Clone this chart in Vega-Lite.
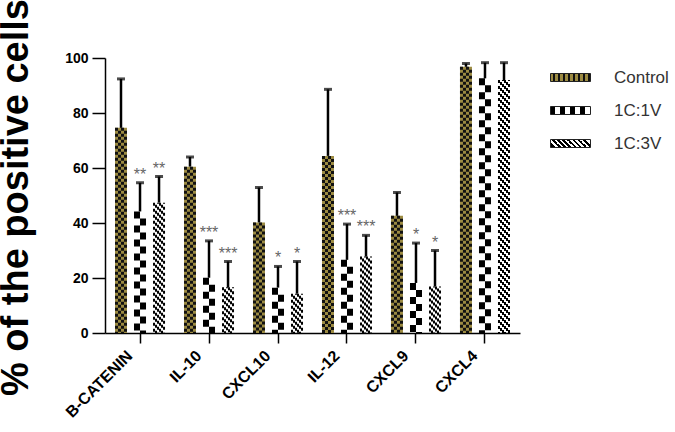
{
  "$schema": "https://vega.github.io/schema/vega-lite/v6.json",
  "width": 415,
  "height": 275,
  "autosize": {"type": "none"},
  "padding": {"left": 105, "top": 58, "right": 155, "bottom": 99},
  "background": "white",
  "config": {"view": {"stroke": null}, "font": "Liberation Sans"},
  "data": {"values": [
    {"cat": "B-CATENIN", "grp": "Control", "mean": 74.6, "upper": 92.4, "sig": ""},
    {"cat": "B-CATENIN", "grp": "1C:1V", "mean": 44.2, "upper": 54.6, "sig": "**"},
    {"cat": "B-CATENIN", "grp": "1C:3V", "mean": 47.4, "upper": 56.9, "sig": "**"},
    {"cat": "IL-10", "grp": "Control", "mean": 60.5, "upper": 64.0, "sig": ""},
    {"cat": "IL-10", "grp": "1C:1V", "mean": 20.1, "upper": 33.5, "sig": "***"},
    {"cat": "IL-10", "grp": "1C:3V", "mean": 16.6, "upper": 26.0, "sig": "***"},
    {"cat": "CXCL10", "grp": "Control", "mean": 40.2, "upper": 52.9, "sig": ""},
    {"cat": "CXCL10", "grp": "1C:1V", "mean": 16.5, "upper": 24.2, "sig": "*"},
    {"cat": "CXCL10", "grp": "1C:3V", "mean": 14.3, "upper": 26.0, "sig": "*"},
    {"cat": "IL-12", "grp": "Control", "mean": 64.4, "upper": 88.6, "sig": ""},
    {"cat": "IL-12", "grp": "1C:1V", "mean": 26.6, "upper": 39.6, "sig": "***"},
    {"cat": "IL-12", "grp": "1C:3V", "mean": 27.8, "upper": 35.5, "sig": "***"},
    {"cat": "CXCL9", "grp": "Control", "mean": 42.6, "upper": 51.1, "sig": ""},
    {"cat": "CXCL9", "grp": "1C:1V", "mean": 18.2, "upper": 32.7, "sig": "*"},
    {"cat": "CXCL9", "grp": "1C:3V", "mean": 16.9, "upper": 30.0, "sig": "*"},
    {"cat": "CXCL4", "grp": "Control", "mean": 96.8, "upper": 98.0, "sig": ""},
    {"cat": "CXCL4", "grp": "1C:1V", "mean": 92.6, "upper": 98.3, "sig": ""},
    {"cat": "CXCL4", "grp": "1C:3V", "mean": 92.0, "upper": 98.3, "sig": ""}
  ]},
  "encoding": {
    "x": {
      "field": "cat", "type": "nominal",
      "sort": ["B-CATENIN", "IL-10", "CXCL10", "IL-12", "CXCL9", "CXCL4"],
      "scale": {"paddingInner": 0.275, "paddingOuter": 0.145},
      "axis": {
        "title": null, "labelAngle": -45, "labelAlign": "right", "labelBaseline": "middle",
        "labelFontSize": 16, "labelFontWeight": "bold", "labelColor": "black", "labelPadding": 10, "labelOffset": -10,
        "tickSize": 10, "tickWidth": 1.5, "tickColor": "black", "domainColor": "black", "domainWidth": 1.5
      }
    },
    "y": {
      "field": "mean", "type": "quantitative",
      "scale": {"domain": [0, 100], "nice": false},
      "axis": {
        "values": [0, 20, 40, 60, 80, 100], "grid": false,
        "labelFontSize": 14, "labelFontWeight": "bold", "labelColor": "black", "labelPadding": 4,
        "tickSize": 13, "tickWidth": 1.5, "tickColor": "black", "domainColor": "black", "domainWidth": 1.5,
        "title": "% of the positive cells", "titleFontSize": 38, "titleFontWeight": "bold", "titleColor": "black",
        "titleAngle": -90, "titleX": -78, "titleY": 139, "titleAlign": "center", "titleBaseline": "alphabetic"
      }
    }
  },
  "layer": [
    {"transform": [{"filter": "datum.grp === 'Control'"}],
     "mark": {"type": "bar", "fill": "#9c8b42"},
     "encoding": {"xOffset": {"field": "grp", "type": "nominal", "scale": {"domain": ["Control", "1C:1V", "1C:3V"], "paddingInner": 0.37, "paddingOuter": 0}}}},
    {"transform": [{"filter": "datum.grp === 'Control'"}], "mark": {"type": "rule", "color": "#111", "strokeWidth": 3, "strokeDash": [3, 3], "strokeDashOffset": 0},
     "encoding": {"x": {"field": "cat", "type": "nominal", "sort": ["B-CATENIN", "IL-10", "CXCL10", "IL-12", "CXCL9", "CXCL4"], "bandPosition": 0.03}, "y2": {"datum": 0}}},
    {"transform": [{"filter": "datum.grp === 'Control'"}], "mark": {"type": "rule", "color": "#111", "strokeWidth": 3, "strokeDash": [3, 3], "strokeDashOffset": 3},
     "encoding": {"x": {"field": "cat", "type": "nominal", "sort": ["B-CATENIN", "IL-10", "CXCL10", "IL-12", "CXCL9", "CXCL4"], "bandPosition": 0.09}, "y2": {"datum": 0}}},
    {"transform": [{"filter": "datum.grp === 'Control'"}], "mark": {"type": "rule", "color": "#111", "strokeWidth": 3, "strokeDash": [3, 3], "strokeDashOffset": 0},
     "encoding": {"x": {"field": "cat", "type": "nominal", "sort": ["B-CATENIN", "IL-10", "CXCL10", "IL-12", "CXCL9", "CXCL4"], "bandPosition": 0.15}, "y2": {"datum": 0}}},
    {"transform": [{"filter": "datum.grp === 'Control'"}], "mark": {"type": "rule", "color": "#111", "strokeWidth": 3, "strokeDash": [3, 3], "strokeDashOffset": 3},
     "encoding": {"x": {"field": "cat", "type": "nominal", "sort": ["B-CATENIN", "IL-10", "CXCL10", "IL-12", "CXCL9", "CXCL4"], "bandPosition": 0.21}, "y2": {"datum": 0}}},
    {"transform": [{"filter": "datum.grp === '1C:1V'"}], "mark": {"type": "rule", "color": "#000", "strokeWidth": 6, "strokeDash": [7, 7], "strokeDashOffset": 0},
     "encoding": {"x": {"field": "cat", "type": "nominal", "sort": ["B-CATENIN", "IL-10", "CXCL10", "IL-12", "CXCL9", "CXCL4"], "bandPosition": 0.44}, "y2": {"datum": 0}}},
    {"transform": [{"filter": "datum.grp === '1C:1V'"}], "mark": {"type": "rule", "color": "#000", "strokeWidth": 6, "strokeDash": [7, 7], "strokeDashOffset": 7},
     "encoding": {"x": {"field": "cat", "type": "nominal", "sort": ["B-CATENIN", "IL-10", "CXCL10", "IL-12", "CXCL9", "CXCL4"], "bandPosition": 0.56}, "y2": {"datum": 0}}},
    {"transform": [{"filter": "datum.grp === '1C:3V'"}], "mark": {"type": "rule", "color": "#000", "strokeWidth": 2, "strokeDash": [3, 3], "strokeDashOffset": 0},
     "encoding": {"x": {"field": "cat", "type": "nominal", "sort": ["B-CATENIN", "IL-10", "CXCL10", "IL-12", "CXCL9", "CXCL4"], "bandPosition": 0.78}, "y2": {"datum": 0}}},
    {"transform": [{"filter": "datum.grp === '1C:3V'"}], "mark": {"type": "rule", "color": "#000", "strokeWidth": 2, "strokeDash": [3, 3], "strokeDashOffset": 4},
     "encoding": {"x": {"field": "cat", "type": "nominal", "sort": ["B-CATENIN", "IL-10", "CXCL10", "IL-12", "CXCL9", "CXCL4"], "bandPosition": 0.82}, "y2": {"datum": 0}}},
    {"transform": [{"filter": "datum.grp === '1C:3V'"}], "mark": {"type": "rule", "color": "#000", "strokeWidth": 2, "strokeDash": [3, 3], "strokeDashOffset": 2},
     "encoding": {"x": {"field": "cat", "type": "nominal", "sort": ["B-CATENIN", "IL-10", "CXCL10", "IL-12", "CXCL9", "CXCL4"], "bandPosition": 0.86}, "y2": {"datum": 0}}},
    {"transform": [{"filter": "datum.grp === '1C:3V'"}], "mark": {"type": "rule", "color": "#000", "strokeWidth": 2, "strokeDash": [3, 3], "strokeDashOffset": 0},
     "encoding": {"x": {"field": "cat", "type": "nominal", "sort": ["B-CATENIN", "IL-10", "CXCL10", "IL-12", "CXCL9", "CXCL4"], "bandPosition": 0.90}, "y2": {"datum": 0}}},
    {"transform": [{"filter": "datum.grp === '1C:3V'"}], "mark": {"type": "rule", "color": "#000", "strokeWidth": 2, "strokeDash": [3, 3], "strokeDashOffset": 4},
     "encoding": {"x": {"field": "cat", "type": "nominal", "sort": ["B-CATENIN", "IL-10", "CXCL10", "IL-12", "CXCL9", "CXCL4"], "bandPosition": 0.94}, "y2": {"datum": 0}}},
    {"transform": [{"filter": "datum.grp === '1C:3V'"}], "mark": {"type": "rule", "color": "#000", "strokeWidth": 2, "strokeDash": [3, 3], "strokeDashOffset": 2},
     "encoding": {"x": {"field": "cat", "type": "nominal", "sort": ["B-CATENIN", "IL-10", "CXCL10", "IL-12", "CXCL9", "CXCL4"], "bandPosition": 0.98}, "y2": {"datum": 0}}},
    {"mark": {"type": "rule", "color": "#000", "strokeWidth": 2.5},
     "encoding": {"xOffset": {"field": "grp", "type": "nominal", "scale": {"domain": ["Control", "1C:1V", "1C:3V"], "paddingInner": 0.37, "paddingOuter": 0}}, "y2": {"field": "upper"}}},
    {"mark": {"type": "tick", "color": "#000", "thickness": 3, "size": 8},
     "encoding": {"xOffset": {"field": "grp", "type": "nominal", "scale": {"domain": ["Control", "1C:1V", "1C:3V"], "paddingInner": 0.37, "paddingOuter": 0}}, "y": {"field": "upper", "type": "quantitative"}}},
    {"mark": {"type": "text", "color": "#666", "fontSize": 16, "baseline": "alphabetic", "dy": -3},
     "encoding": {"xOffset": {"field": "grp", "type": "nominal", "scale": {"domain": ["Control", "1C:1V", "1C:3V"], "paddingInner": 0.37, "paddingOuter": 0}}, "y": {"field": "upper", "type": "quantitative"}, "text": {"field": "sig"}}},
    {"mark": {"type": "point", "filled": true, "opacity": 0, "size": 400, "shape": "M-2,-0.4H2V0.4H-2Z"},
     "encoding": {
       "color": {
         "field": "grp", "type": "nominal",
         "scale": {
           "domain": ["Control", "1C:1V", "1C:3V"],
           "range": [
             {"expr": "{gradient: 'linear', x1: 0, y1: 0, x2: 1, y2: 0, stops: [{offset: 0, color: '#9c8b42'}, {offset: 0.0625, color: '#9c8b42'}, {offset: 0.0625, color: '#111'}, {offset: 0.125, color: '#111'}, {offset: 0.125, color: '#9c8b42'}, {offset: 0.1875, color: '#9c8b42'}, {offset: 0.1875, color: '#111'}, {offset: 0.25, color: '#111'}, {offset: 0.25, color: '#9c8b42'}, {offset: 0.3125, color: '#9c8b42'}, {offset: 0.3125, color: '#111'}, {offset: 0.375, color: '#111'}, {offset: 0.375, color: '#9c8b42'}, {offset: 0.4375, color: '#9c8b42'}, {offset: 0.4375, color: '#111'}, {offset: 0.5, color: '#111'}, {offset: 0.5, color: '#9c8b42'}, {offset: 0.5625, color: '#9c8b42'}, {offset: 0.5625, color: '#111'}, {offset: 0.625, color: '#111'}, {offset: 0.625, color: '#9c8b42'}, {offset: 0.6875, color: '#9c8b42'}, {offset: 0.6875, color: '#111'}, {offset: 0.75, color: '#111'}, {offset: 0.75, color: '#9c8b42'}, {offset: 0.8125, color: '#9c8b42'}, {offset: 0.8125, color: '#111'}, {offset: 0.875, color: '#111'}, {offset: 0.875, color: '#9c8b42'}, {offset: 0.9375, color: '#9c8b42'}, {offset: 0.9375, color: '#111'}, {offset: 1, color: '#111'}]}"},
             {"expr": "{gradient: 'linear', x1: 0, y1: 0, x2: 1, y2: 0, stops: [{offset: 0, color: '#000'}, {offset: 0.125, color: '#000'}, {offset: 0.125, color: '#fff'}, {offset: 0.25, color: '#fff'}, {offset: 0.25, color: '#000'}, {offset: 0.375, color: '#000'}, {offset: 0.375, color: '#fff'}, {offset: 0.5, color: '#fff'}, {offset: 0.5, color: '#000'}, {offset: 0.625, color: '#000'}, {offset: 0.625, color: '#fff'}, {offset: 0.75, color: '#fff'}, {offset: 0.75, color: '#000'}, {offset: 0.875, color: '#000'}, {offset: 0.875, color: '#fff'}, {offset: 1, color: '#fff'}]}"},
             {"expr": "{gradient: 'linear', x1: 0, y1: 0.6, x2: 1, y2: 0.4, stops: [{offset: 0, color: '#000'}, {offset: 0.0625, color: '#000'}, {offset: 0.0625, color: '#fff'}, {offset: 0.125, color: '#fff'}, {offset: 0.125, color: '#000'}, {offset: 0.1875, color: '#000'}, {offset: 0.1875, color: '#fff'}, {offset: 0.25, color: '#fff'}, {offset: 0.25, color: '#000'}, {offset: 0.3125, color: '#000'}, {offset: 0.3125, color: '#fff'}, {offset: 0.375, color: '#fff'}, {offset: 0.375, color: '#000'}, {offset: 0.4375, color: '#000'}, {offset: 0.4375, color: '#fff'}, {offset: 0.5, color: '#fff'}, {offset: 0.5, color: '#000'}, {offset: 0.5625, color: '#000'}, {offset: 0.5625, color: '#fff'}, {offset: 0.625, color: '#fff'}, {offset: 0.625, color: '#000'}, {offset: 0.6875, color: '#000'}, {offset: 0.6875, color: '#fff'}, {offset: 0.75, color: '#fff'}, {offset: 0.75, color: '#000'}, {offset: 0.8125, color: '#000'}, {offset: 0.8125, color: '#fff'}, {offset: 0.875, color: '#fff'}, {offset: 0.875, color: '#000'}, {offset: 0.9375, color: '#000'}, {offset: 0.9375, color: '#fff'}, {offset: 1, color: '#fff'}]}"}
           ]
         },
         "legend": {
           "title": null, "orient": "none", "legendX": 455, "legendY": 9, "padding": 0,
           "symbolType": "M-2,-0.4H2V0.4H-2Z", "symbolSize": 400, "symbolOpacity": 1,
           "symbolStrokeWidth": 1, "symbolStrokeColor": "#222",
           "labelFontSize": 17, "labelColor": "#333", "labelOffset": 33, "rowPadding": 14
         }
       }
     }}
  ]
}
